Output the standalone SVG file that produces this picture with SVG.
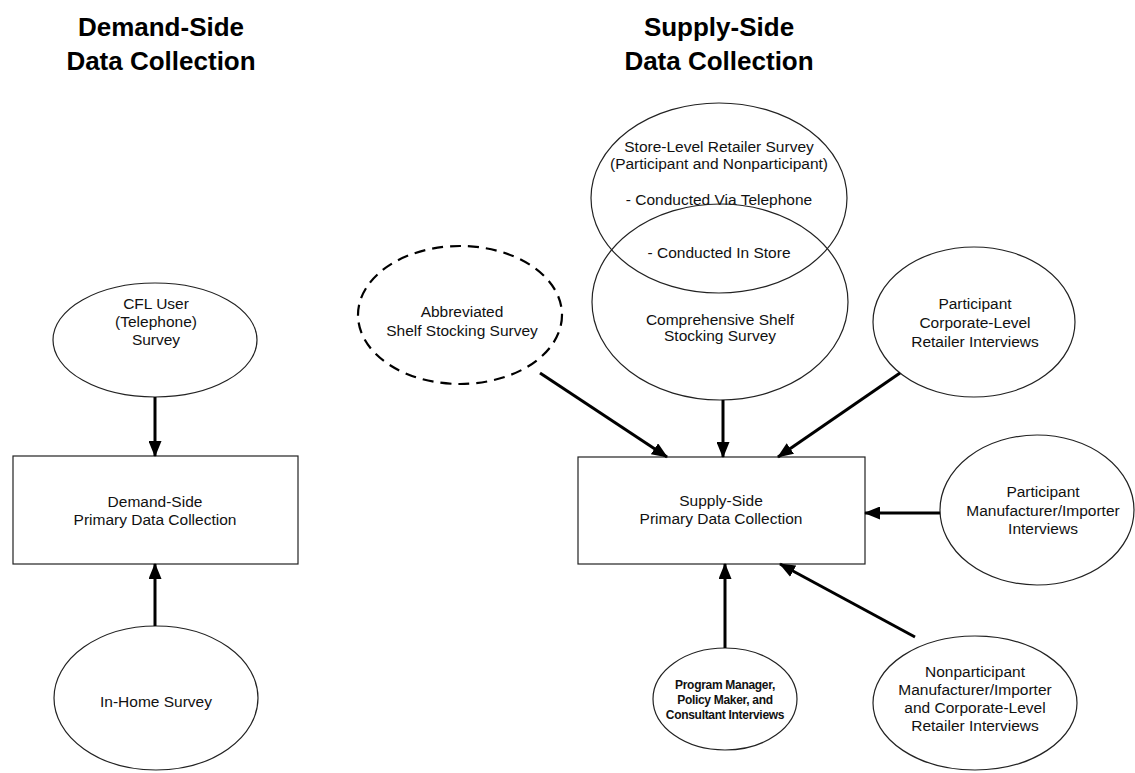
<svg xmlns="http://www.w3.org/2000/svg" width="1135" height="773" viewBox="0 0 1135 773">
<defs>
<style>
.title{font-family:"Liberation Sans",Arial,sans-serif;font-weight:bold;font-size:26px;text-anchor:middle;fill:#000}
.t{font-family:"Liberation Sans",Arial,sans-serif;font-size:15.5px;text-anchor:middle;fill:#111}
.ts{font-family:"Liberation Sans",Arial,sans-serif;font-size:12px;font-weight:bold;letter-spacing:-0.3px;text-anchor:middle;fill:#111}
.shape{fill:none;stroke:#222;stroke-width:1.2}
.dash{fill:none;stroke:#000;stroke-width:2.2;stroke-dasharray:11 7}
.conn line{stroke:#000;stroke-width:3;marker-end:url(#ah)}
</style>
<marker id="ah" markerUnits="userSpaceOnUse" markerWidth="16" markerHeight="13" refX="15" refY="6.5" orient="auto">
<path d="M0,0 L16,6.5 L0,13 z" fill="#000"/>
</marker>
</defs>
<rect width="1135" height="773" fill="#fff"/>

<g id="title-demand">
<text class="title" x="161" y="36">Demand-Side</text>
<text class="title" x="161" y="70">Data Collection</text>
</g>
<g id="title-supply">
<text class="title" x="719" y="36">Supply-Side</text>
<text class="title" x="719" y="70">Data Collection</text>
</g>

<g id="cfl-user">
<ellipse class="shape" cx="155" cy="340" rx="102" ry="57"/>
<text class="t" x="156" y="309">CFL User</text>
<text class="t" x="156" y="327">(Telephone)</text>
<text class="t" x="156" y="345">Survey</text>
</g>

<g id="demand-box">
<rect class="shape" x="13" y="456" width="285" height="108"/>
<text class="t" x="155" y="507">Demand-Side</text>
<text class="t" x="155" y="525">Primary Data Collection</text>
</g>

<g id="in-home">
<ellipse class="shape" cx="156" cy="698" rx="102" ry="72"/>
<text class="t" x="156" y="707">In-Home Survey</text>
</g>

<g id="store-level">
<ellipse class="shape" cx="719" cy="198" rx="128" ry="95"/>
<text class="t" x="719" y="152">Store-Level Retailer Survey</text>
<text class="t" x="719" y="169">(Participant and Nonparticipant)</text>
<text class="t" x="719" y="205">- Conducted Via Telephone</text>
<text class="t" x="719" y="258">- Conducted In Store</text>
</g>

<g id="comprehensive">
<ellipse class="shape" cx="720" cy="302" rx="128" ry="98"/>
<text class="t" x="720" y="325">Comprehensive Shelf</text>
<text class="t" x="720" y="341">Stocking Survey</text>
</g>

<g id="abbreviated">
<ellipse class="dash" cx="460" cy="315" rx="102" ry="69"/>
<text class="t" x="462" y="317">Abbreviated</text>
<text class="t" x="462" y="336">Shelf Stocking Survey</text>
</g>

<g id="participant-corporate">
<ellipse class="shape" cx="974" cy="322" rx="101" ry="75"/>
<text class="t" x="975" y="309">Participant</text>
<text class="t" x="975" y="328">Corporate-Level</text>
<text class="t" x="975" y="347">Retailer Interviews</text>
</g>

<g id="supply-box">
<rect class="shape" x="578" y="457" width="287" height="107"/>
<text class="t" x="721" y="506">Supply-Side</text>
<text class="t" x="721" y="524">Primary Data Collection</text>
</g>

<g id="participant-manufacturer">
<ellipse class="shape" cx="1037" cy="510" rx="97" ry="75"/>
<text class="t" x="1043" y="497">Participant</text>
<text class="t" x="1043" y="516">Manufacturer/Importer</text>
<text class="t" x="1043" y="534">Interviews</text>
</g>

<g id="program-manager">
<ellipse class="shape" cx="725" cy="699" rx="72" ry="51"/>
<text class="ts" x="725" y="689">Program Manager,</text>
<text class="ts" x="725" y="704">Policy Maker, and</text>
<text class="ts" x="725" y="719">Consultant Interviews</text>
</g>

<g id="nonparticipant">
<ellipse class="shape" cx="975" cy="703" rx="102" ry="67"/>
<text class="t" x="975" y="677">Nonparticipant</text>
<text class="t" x="975" y="695">Manufacturer/Importer</text>
<text class="t" x="975" y="713">and Corporate-Level</text>
<text class="t" x="975" y="731">Retailer Interviews</text>
</g>

<g id="connectors" class="conn">
<line x1="155" y1="397" x2="155" y2="456"/>
<line x1="155" y1="626" x2="155" y2="564"/>
<line x1="540" y1="373" x2="667" y2="457"/>
<line x1="723" y1="400" x2="723" y2="457"/>
<line x1="900" y1="373" x2="778" y2="457"/>
<line x1="940" y1="513" x2="865" y2="513"/>
<line x1="725" y1="648" x2="725" y2="564"/>
<line x1="915" y1="637" x2="780" y2="564"/>
</g>
</svg>
